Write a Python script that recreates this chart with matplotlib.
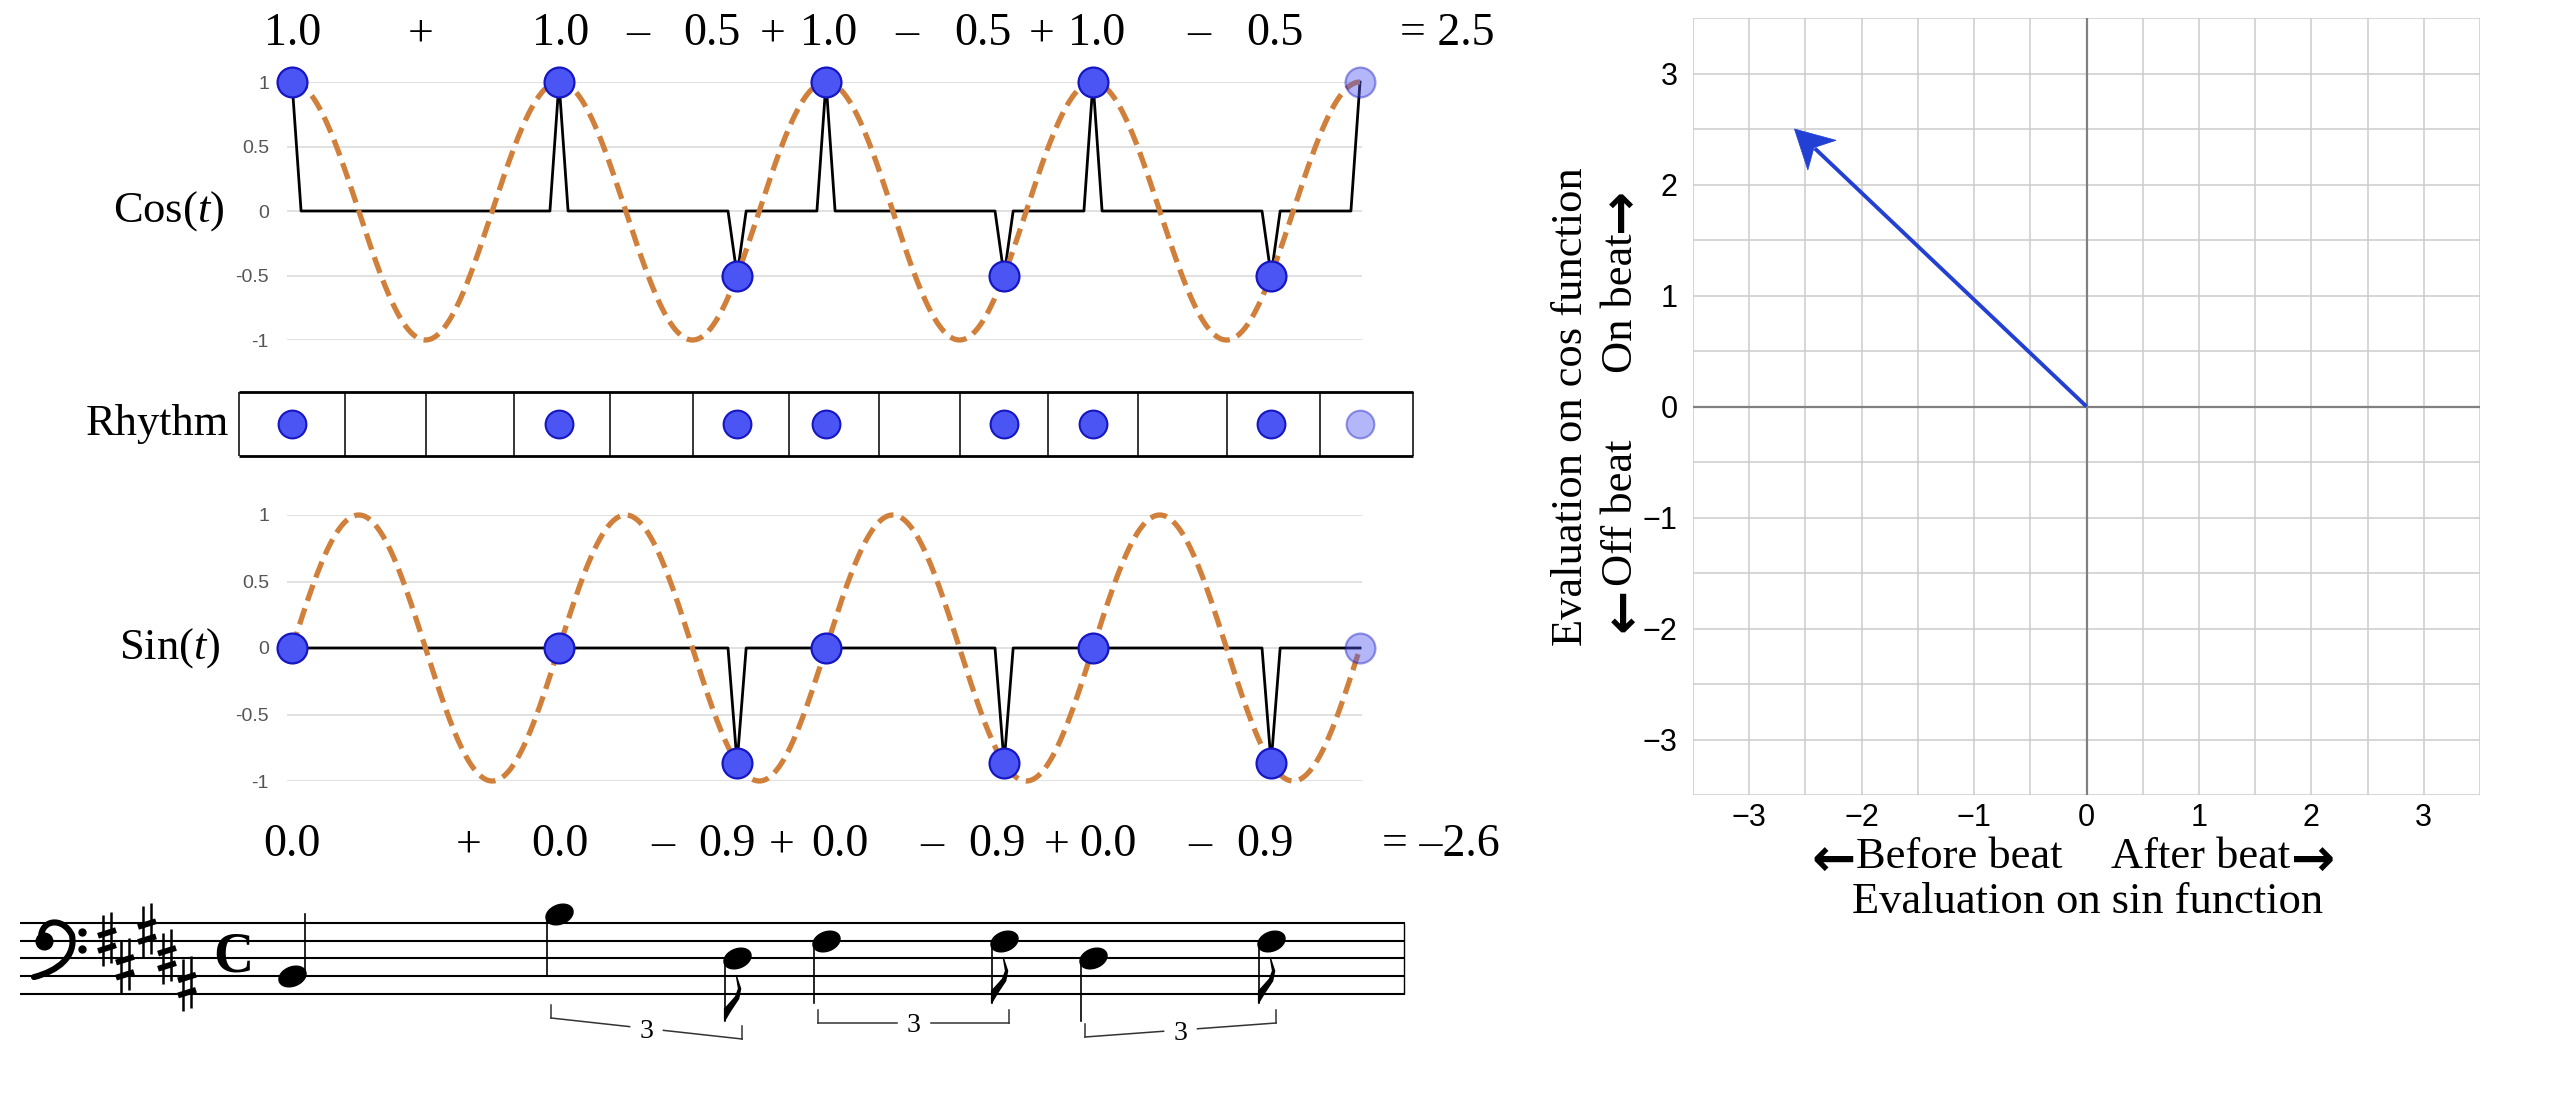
import numpy as np
import matplotlib
matplotlib.use("Agg")
import matplotlib.pyplot as plt
from matplotlib.path import Path
from matplotlib.patches import PathPatch, Polygon

plt.rcParams['font.family'] = ['Liberation Serif', 'DejaVu Serif']
plt.rcParams['mathtext.fontset'] = 'custom'
plt.rcParams['mathtext.rm'] = 'Liberation Serif'
plt.rcParams['mathtext.it'] = 'Liberation Serif:italic'

# ---------------- data ----------------
onsets = [0.0, 1.0, 1.667, 2.0, 2.667, 3.0, 3.667]      # beat positions of the notes
next_beat = 4.0                                          # next downbeat (faded)
cos_vals = [1.0, 1.0, -0.5, 1.0, -0.5, 1.0, -0.5]
sin_vals = [0.0, 0.0, -0.866, 0.0, -0.866, 0.0, -0.866]
cos_next = 1.0
sin_next = 0.0
cell_edges = [-0.2, 0.2, 0.5, 0.83, 1.19, 1.5, 1.86, 2.2, 2.5, 2.83, 3.17, 3.5, 3.85, 4.2]
note_steps = [2, 9, 4, 6, 6, 4, 6]                       # staff steps above bottom line
note_values = ['quarter', 'quarter', 'eighth', 'quarter', 'eighth', 'quarter', 'eighth']
triplet_groups = [(1, 2), (3, 4), (5, 6)]
key_sharp_steps = [6, 3, 7, 4, 1]
wave_ticks = [1, 0.5, 0, -0.5, -1]
wave_tick_labels = ['1', '0.5', '0', '-0.5', '-1']
vec_ticks = [-3, -2, -1, 0, 1, 2, 3]

cos_sum = sum(cos_vals)
sin_sum = sum(sin_vals)

# ---------------- layout helpers ----------------
W, H = 2560, 1102
T0, PB = 292.0, 267.0          # pixel of beat 0, pixels per beat
fig = plt.figure(figsize=(W / 100, H / 100), dpi=100, facecolor='white')


def frect(l, t, r, b):
    return [l / W, 1 - b / H, (r - l) / W, (b - t) / H]


def tpx(px):
    return (px - T0) / PB


def ftext(x, y, s, **kw):
    return fig.text(x / W, 1 - y / H, s, **kw)


DOT_FC, DOT_EC = '#4a55f4', '#1616c2'
ORANGE = '#d0803a'
SANS = ['Liberation Sans', 'DejaVu Sans']


def spike(vals, nxt, w=0.034):
    xs, ys = [onsets[0], onsets[0] + w], [vals[0], 0]
    for t, v in zip(onsets[1:], vals[1:]):
        xs += [t - w, t, t + w]
        ys += [0, v, 0]
    xs += [next_beat - w, next_beat]
    ys += [0, nxt]
    return xs, ys


def wave_axes(top, bottom, vals, nxt, func):
    ax = fig.add_axes(frect(287, top, 1362, bottom))
    ax.set_xlim(tpx(287), tpx(1362))
    ax.set_ylim(-1, 1)
    for s in ax.spines.values():
        s.set_visible(False)
    ax.set_xticks([])
    ax.set_yticks(wave_ticks)
    ax.set_yticklabels(wave_tick_labels, family=SANS)
    ax.tick_params(axis='y', length=0, pad=13, labelsize=14, labelcolor='#555555')
    ax.yaxis.grid(True, color='#d9d9d9', lw=1.1)
    ax.set_axisbelow(True)
    xs, ys = spike(vals, nxt)
    ax.plot(xs, ys, color='black', lw=2.0, zorder=3, clip_on=False)
    tt = np.linspace(0, next_beat, 800)
    ax.plot(tt, func(2 * np.pi * tt), color=ORANGE, lw=3.8,
            linestyle=(0, (3.2, 1.5)), zorder=4, clip_on=False)
    ax.plot(onsets, vals, 'o', ms=21.5, mfc=DOT_FC, mec=DOT_EC, mew=1.6,
            zorder=5, clip_on=False)
    ax.plot([next_beat], [nxt], 'o', ms=21.5, mfc=DOT_FC, mec=DOT_EC, mew=1.6,
            alpha=0.42, zorder=5, clip_on=False)
    return ax


ax_c = wave_axes(82, 340, cos_vals, cos_next, np.cos)
ax_s = wave_axes(515, 781, sin_vals, sin_next, np.sin)

ftext(224, 211, 'Cos($t$)', ha='right', va='center', fontsize=32)
ftext(220, 648, 'Sin($t$)', ha='right', va='center', fontsize=32)

# ---------------- rhythm row ----------------
ax_r = fig.add_axes(frect(T0 + cell_edges[0] * PB, 392, T0 + cell_edges[-1] * PB, 456))
ax_r.set_xlim(cell_edges[0], cell_edges[-1])
ax_r.set_ylim(0, 1)
ax_r.axis('off')
ax_r.vlines(cell_edges, 0, 1, color='black', lw=1.1, clip_on=False)
ax_r.hlines([0, 1], cell_edges[0], cell_edges[-1], color='black', lw=2.0, clip_on=False)
ax_r.plot(onsets, [0.5] * len(onsets), 'o', ms=20, mfc=DOT_FC, mec=DOT_EC, mew=1.5,
          zorder=5, clip_on=False)
ax_r.plot([next_beat], [0.5], 'o', ms=20, mfc=DOT_FC, mec=DOT_EC, mew=1.5,
          alpha=0.42, zorder=5, clip_on=False)
ftext(229, 424, 'Rhythm', ha='right', va='center', fontsize=32)

# ---------------- equations ----------------


def term_str(v):
    return f"{abs(v):.1f}"


def sign_str(v):
    return '+' if v >= 0 else '–'


def sum_str(v):
    return '= ' + ('–' if v < 0 else '') + f"{abs(v):.1f}"


def equation(vals, total, y, val_x, sign_x, sum_x):
    for i, v in enumerate(vals):
        ftext(val_x[i], y, term_str(v), ha='center', va='center', fontsize=33)
        if i > 0:
            ftext(sign_x[i - 1], y, sign_str(v), ha='center', va='center', fontsize=33)
    ftext(sum_x, y, sum_str(total), ha='left', va='center', fontsize=33)


equation(cos_vals, cos_sum, 34, [293, 561, 712, 829, 983, 1097, 1275],
         [421, 638, 773, 907, 1042, 1199], 1400)
equation(sin_vals, sin_sum, 845, [292, 560, 727, 840, 997, 1108, 1265],
         [469, 663, 782, 932, 1057, 1200], 1382)

# ---------------- staff ----------------
Y0, PS = 994.0, 8.91          # pixel row of bottom staff line, pixels per step
ax_m = fig.add_axes(frect(20, 880, 1405, 1080))
ax_m.set_xlim(tpx(20), tpx(1405))
ax_m.set_ylim((Y0 - 1080) / PS, (Y0 - 880) / PS)
ax_m.axis('off')


def sp(ypx):
    return (Y0 - ypx) / PS


ax_m.hlines([0, 2, 4, 6, 8], tpx(20), tpx(1405), color='black', lw=1.5)
ax_m.vlines([tpx(1404)], 0, 8, color='black', lw=1.0, clip_on=False)

# bass clef
verts = [(41, 6.3), (41, 8.4), (63, 8.7), (72, 6.6), (76, 4.2), (58, 2.6), (34, 1.9)]
codes = [Path.MOVETO] + [Path.CURVE4] * 6
clef = Path([(tpx(x), y) for x, y in verts], codes)
ax_m.add_patch(PathPatch(clef, fc='none', ec='black', lw=4.4, capstyle='round'))
ax_m.plot([tpx(44)], [6.0], 'o', color='black', ms=12)
ax_m.plot([tpx(82), tpx(82)], [7, 5], 'o', color='black', ms=5)

# key signature (sharps)
sharp_x_px = [107, 125, 147, 167, 187]
for xp, st in zip(sharp_x_px, key_sharp_steps):
    for dx, lift in ((-4, 0.0), (4, 0.35)):
        ax_m.plot([tpx(xp + dx)] * 2, [st - 2.9 + lift, st + 2.9 + lift], color='black', lw=1.8,
                  solid_capstyle='butt')
    for dy in (-0.85, 0.85):
        ax_m.plot([tpx(xp - 9), tpx(xp + 9)], [st + dy - 0.32, st + dy + 0.32], color='black',
                  lw=4.2, solid_capstyle='butt')

# common time
ax_m.text(tpx(233), 4.1, 'C', ha='center', va='center', fontsize=40, fontweight='bold')

# noteheads
ang = np.deg2rad(22)
th = np.linspace(0, 2 * np.pi, 60)
ex_, ey_ = np.cos(th), 0.68 * np.sin(th)
head = Path(np.column_stack([ex_ * np.cos(ang) - ey_ * np.sin(ang),
                             ex_ * np.sin(ang) + ey_ * np.cos(ang)]))
ax_m.plot(onsets, note_steps, linestyle='none', marker=head, ms=19.5, color='black')

flag_px = [(0, 0), (6, 10), (14, 22), (16, 32), (12, 44), (14, 32), (11, 24), (3, 15), (0, 12)]
for t, st, kind in zip(onsets, note_steps, note_values):
    up = st < 4
    if up:
        sx, y0, y1 = t + 12.5 / PB, st + 0.3, st + 7
    else:
        sx, y0, y1 = t - 12.5 / PB, st - 0.3, st - 7
    ax_m.plot([sx, sx], [y0, y1], color='black', lw=1.2)
    if kind == 'eighth' and not up:
        ax_m.add_patch(Polygon([(sx + dx / PB, y1 + dy / PS) for dx, dy in flag_px],
                               closed=True, fc='black', ec='black', lw=1.0))

# triplet brackets
bracket_y_px = [(1018, 1039), (1023, 1023), (1037, 1023)]
for (i0, i1), (ya, yb) in zip(triplet_groups, bracket_y_px):
    xa, xb = T0 + onsets[i0] * PB - 8, T0 + onsets[i1] * PB + 5
    ln = np.hypot(xb - xa, yb - ya)
    g = 17 / ln
    for s0, s1 in ((0, 0.5 - g), (0.5 + g, 1)):
        ax_m.plot([tpx(xa + (xb - xa) * s0), tpx(xa + (xb - xa) * s1)],
                  [sp(ya + (yb - ya) * s0), sp(ya + (yb - ya) * s1)], color='#333333', lw=1.1)
    ax_m.plot([tpx(xa)] * 2, [sp(ya), sp(ya - 13)], color='#333333', lw=1.1)
    ax_m.plot([tpx(xb)] * 2, [sp(yb), sp(yb - 13)], color='#333333', lw=1.1)
    ax_m.text(tpx((xa + xb) / 2), sp((ya + yb) / 2 + 3), '3', ha='center', va='center',
              fontsize=20)

# ---------------- phase vector plot ----------------
L, T, R, B = 1693, 18, 2480, 795
ax_v = fig.add_axes(frect(L, T, R, B))
ax_v.set_xlim(-3.5, 3.5)
ax_v.set_ylim(-3.5, 3.5)
for s in ax_v.spines.values():
    s.set_visible(False)
ax_v.set_xticks(vec_ticks)
ax_v.set_yticks(vec_ticks)
ax_v.set_xticks(np.arange(-3.5, 3.51, 0.5), minor=True)
ax_v.set_yticks(np.arange(-3.5, 3.51, 0.5), minor=True)
ax_v.grid(True, which='both', color='#cccccc', lw=1.1)
ax_v.set_axisbelow(True)
ax_v.tick_params(which='both', length=0)
ax_v.tick_params(axis='x', pad=6, labelsize=22)
ax_v.tick_params(axis='y', pad=11, labelsize=22)
for lab in ax_v.get_xticklabels() + ax_v.get_yticklabels():
    lab.set_family(SANS)
ax_v.axhline(0, color='#808080', lw=1.6, zorder=2)
ax_v.axvline(0, color='#808080', lw=1.6, zorder=2)

sxp, syp = (R - L) / 7, (B - T) / 7
tipx, tipy = sin_sum * sxp, cos_sum * syp
ln = np.hypot(tipx, tipy)
ux, uy = tipx / ln, tipy / ln
nx, ny = -uy, ux


def back(a, b):
    return ((tipx - a * ux + b * nx) / sxp, (tipy - a * uy + b * ny) / syp)


ARROW = '#2340d4'
shaft_end = back(28, 0)
ax_v.plot([0, shaft_end[0]], [0, shaft_end[1]], color=ARROW, lw=2.8, zorder=4,
          solid_capstyle='butt')
ax_v.add_patch(Polygon([back(0, 0), back(38, 20.5), back(27, 0), back(38, -20.5)],
                       closed=True, fc=ARROW, ec=ARROW, lw=0.5, zorder=5))

# axis captions with heavy arrows
LBL = 32
ARW = dict(family=['DejaVu Sans'], fontweight='bold', fontsize=38)
ftext(1571, 407, 'Evaluation on cos function', rotation=90, ha='center', va='center',
      fontsize=LBL)
t_on = ftext(1621, 373, 'On beat', rotation=90, ha='center', va='bottom', fontsize=LBL)
t_off = ftext(1621, 440, 'Off beat', rotation=90, ha='center', va='top', fontsize=LBL)
t_bef = ftext(2063, 857, 'Before beat', ha='right', va='center', fontsize=LBL)
t_aft = ftext(2111, 857, 'After beat', ha='left', va='center', fontsize=LBL)
ftext(2087, 902, 'Evaluation on sin function', ha='center', va='center', fontsize=LBL)

rend = fig.canvas.get_renderer()
bb = t_on.get_window_extent(rend)
fig.text(1621 / W, (bb.y1 + 1) / H, '→', rotation=90, ha='center', va='bottom', **ARW)
bb = t_off.get_window_extent(rend)
fig.text(1623 / W, (bb.y0 - 1) / H, '←', rotation=90, ha='center', va='top', **ARW)
bb = t_bef.get_window_extent(rend)
fig.text((bb.x0 - 1) / W, 1 - 861 / H, '←', ha='right', va='center', **ARW)
bb = t_aft.get_window_extent(rend)
fig.text((bb.x1 + 1) / W, 1 - 861 / H, '→', ha='left', va='center', **ARW)

fig.savefig('out.png', dpi=100, facecolor='white')
